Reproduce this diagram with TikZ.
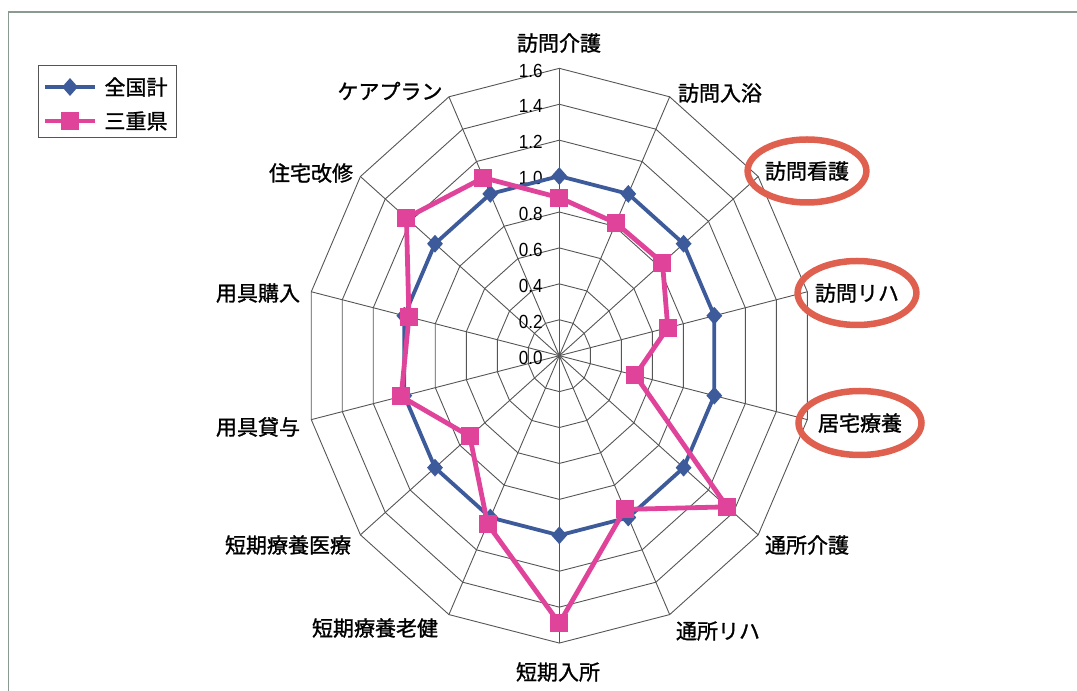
\documentclass[tikz,border=0pt]{standalone}
\usepackage{fontspec}
\setmainfont{Noto Sans CJK JP}[FakeBold=1.2,AutoFakeBold=1.2]
\newfontfamily\numfont{Liberation Sans}[FakeStretch=0.9]
\usetikzlibrary{shapes.geometric,positioning}

\definecolor{zenkoku}{HTML}{3D5A9A}
\definecolor{mie}{HTML}{E0449A}
\definecolor{maru}{HTML}{E0604F}
\definecolor{ami}{HTML}{555555}
\definecolor{waku}{HTML}{8A9A90}

\begin{document}
\begin{tikzpicture}[x=1pt,y=1pt,
    axlabel/.style={inner sep=0pt, font=\fontsize{21}{21}\selectfont},
    maruring/.style={axlabel, ellipse, draw=maru, line width=6.5pt, minimum width=114pt, minimum height=64pt},
    ticklabel/.style={inner sep=0pt, anchor=east, font=\fontsize{19}{19}\selectfont\numfont},
    gridline/.style={draw=ami, line width=0.9pt},
    zenkokuline/.style={draw=zenkoku, line width=3.8pt, line join=round},
    mieline/.style={draw=mie, line width=4.8pt, line join=round},
    zenkokumark/.style={diamond, fill=zenkoku, inner sep=0pt, minimum width=16pt, minimum height=18pt},
    miemark/.style={rectangle, fill=mie, inner sep=0pt, minimum size=18pt}]
    \useasboundingbox (0,0) rectangle (1077,691);
    % frame
    \draw [waku, line width=1.2pt] (1077,679) -- (8.5,679) -- (8.5,0);

    % legend
    \node [draw=ami, line width=0.9pt, minimum width=138pt, minimum height=72pt, inner sep=0pt] (hanrei) at (107.5,590) {};
    \coordinate (hz0) at (45,604);
    \coordinate (hz1) at (95,604);
    \coordinate (hm0) at (45,570);
    \coordinate (hm1) at (95,570);
    \draw [zenkokuline] (hz0) -- (hz1);
    \node [zenkokumark] (hzmark) at (70,604) {};
    \draw [mieline] (hm0) -- (hm1);
    \node [miemark] (hmmark) at (70,570) {};
    \node [axlabel] (zenkokukei) at (136,604) {全国計};
    \node [axlabel] (miekei) at (136,570) {三重県};

    % radar
    \begin{scope}[shift={(559.3,335.3)}, x=159pt, y=179.6pt]
        \foreach \r in {0.2,0.4,0.6,0.8,1.0,1.2,1.4,1.6}
            \draw [gridline] (90:\r) \foreach \k in {1,...,13}{ -- ({90-\k*360/14}:\r)} -- cycle;
        \foreach \k in {0,...,13}
            \draw [gridline] (0,0) -- ({90-\k*360/14}:1.6);
        \foreach \t [count=\i from 0] in {0.0,0.2,0.4,0.6,0.8,1.0,1.2,1.4,1.6}
            \node [ticklabel] (memori\i) at (-0.103,{\i*0.2-0.012}) {\t};

        % national
        \foreach \v [count=\k from 0] in {1.0,1.0,1.0,1.0,1.0,1.0,1.0,1.0,1.0,1.0,1.0,1.0,1.0,1.0}
            \coordinate (z\k) at ({90-\k*360/14}:\v);
        \draw [zenkokuline] (z0) \foreach \k in {1,...,13}{ -- (z\k)} -- cycle;
        \foreach \k in {0,...,13}
            \node [zenkokumark] at (z\k) {};

        % mie
        \foreach \v [count=\k from 0] in {0.88,0.82,0.83,0.70,0.49,1.35,0.95,1.49,1.04,0.72,1.02,0.97,1.23,1.10}
            \coordinate (m\k) at ({90-\k*360/14}:\v);
        \draw [mieline] (m0) \foreach \k in {1,...,13}{ -- (m\k)} -- cycle;
        \foreach \k in {0,...,13}
            \node [miemark] at (m\k) {};
    \end{scope}

    % axis labels
    \node [axlabel] (houmonkaigo) at (559,648) {訪問介護};
    \node [axlabel] (houmonnyuyoku) at (720,598) {訪問入浴};
    \node [maruring, minimum width=111pt, minimum height=63pt] (houmonkango) at (807,520) {訪問看護};
    \node [maruring] (houmonriha) at (857,398) {訪問リハ};
    \node [maruring, minimum width=123pt] (kyotaku) at (860,268) {居宅療養};
    \node [axlabel] (tsushokaigo) at (807,146) {通所介護};
    \node [axlabel] (tsushoriha) at (718,60) {通所リハ};
    \node [axlabel] (tankinyusho) at (558,19) {短期入所};
    \node [axlabel] (tankiroken) at (375,63) {短期療養老健};
    \node [axlabel] (tankiiryo) at (288,146) {短期療養医療};
    \node [axlabel] (yogutaiyo) at (258,264) {用具貸与};
    \node [axlabel] (yogukonyu) at (258,398) {用具購入};
    \node [axlabel] (jutaku) at (311,518) {住宅改修};
    \node [axlabel] (careplan) at (390,600) {ケアプラン};
\end{tikzpicture}
\end{document}
